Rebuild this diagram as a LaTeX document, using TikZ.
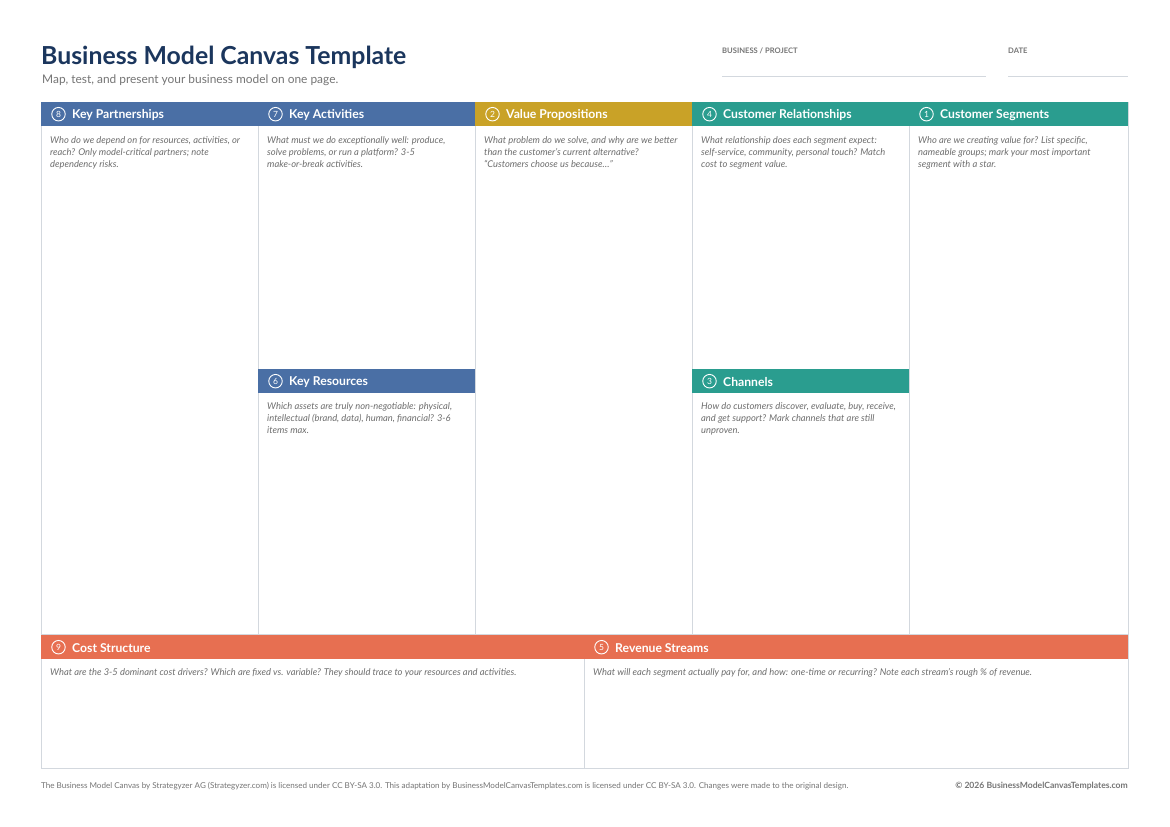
\documentclass[tikz,border=0pt]{standalone}
\usepackage{fontspec}
\setmainfont{Lato}
\usetikzlibrary{positioning}
\definecolor{navy}{HTML}{1B365D}
\definecolor{kblue}{HTML}{4A6FA5}
\definecolor{kgold}{HTML}{C9A227}
\definecolor{kteal}{HTML}{2A9D8F}
\definecolor{kcoral}{HTML}{E76F51}
\definecolor{gridc}{HTML}{D3D8DE}
\definecolor{desctxt}{HTML}{6E6E6E}
\definecolor{subtxt}{HTML}{757575}
\tikzset{
  hdrbar/.style={rectangle, draw=none, minimum height=24pt, inner sep=0pt, anchor=north west},
  numcirc/.style={circle, draw=white, line width=0.9pt, minimum size=13.5pt, inner sep=0pt, text=white, font=\fontsize{8.5}{8.5}\selectfont},
  hdrtitle/.style={inner sep=0pt, text=white, font=\fontsize{12.2}{12.2}\selectfont\bfseries, anchor=west},
  desc/.style={inner sep=0pt, anchor=north west, align=left, text=desctxt, font=\fontsize{9.35}{12}\selectfont\itshape},
  gridline/.style={draw=gridc, line width=0.8pt},
  fieldlbl/.style={inner sep=0pt, anchor=west, text=subtxt, font=\fontsize{7.6}{8}\selectfont\bfseries},
  fieldline/.style={draw=gridc, line width=0.6pt},
  foot/.style={inner sep=0pt, text=subtxt, font=\fontsize{8.07}{9}\selectfont}
}
\newcommand{\bmhead}[7]{%
  \node[hdrbar, fill=#5, minimum width=#4pt] (#1) at (#2,#3) {};
  \node[numcirc] (#1n) at ([xshift=17.5pt]#1.west) {#6};
  \node[hdrtitle] (#1t) at ([xshift=31pt,yshift=-1pt]#1.west) {#7};
}
\begin{document}
\begin{tikzpicture}[x=1pt,y=-1pt]
\useasboundingbox[fill=white] (0,0) rectangle (1170,827);

% title block
\node[inner sep=0pt, anchor=base west, text=navy, font=\fontsize{24.8}{26}\selectfont\bfseries] (title) at (41,64.5) {Business Model Canvas Template};
\node[inner sep=0pt, anchor=base west, text=subtxt, font=\fontsize{11.9}{13}\selectfont] (subtitle) at (42,83) {Map, test, and present your business model on one page.};

% fields
\node[fieldlbl] (bizlbl) at (722,50.5) {BUSINESS / PROJECT};
\coordinate (bizl) at (722,76);
\coordinate (bizr) at (986,76);
\draw[fieldline] (bizl) -- (bizr);
\node[fieldlbl] (datelbl) at (1008,50.5) {DATE};
\coordinate (datel) at (1008,76);
\coordinate (dater) at (1128,76);
\draw[fieldline] (datel) -- (dater);

% grid
\coordinate (tl) at (41,102);
\coordinate (br) at (1128,768);
\draw[gridline] (tl) rectangle (br);
\foreach \x in {258,475,692,909} {
  \draw[gridline] (\x,102) -- (\x,634);
}
\draw[gridline] (41,634) -- (1128,634);
\draw[gridline] (584,634) -- (584,768);

% headers
\bmhead{kp}{41}{102}{217}{kblue}{8}{Key Partnerships}
\bmhead{ka}{258}{102}{217}{kblue}{7}{Key Activities}
\bmhead{vp}{475}{102}{217}{kgold}{2}{Value Propositions}
\bmhead{cr}{692}{102}{217}{kteal}{4}{Customer Relationships}
\bmhead{cs}{909}{102}{219}{kteal}{1}{Customer Segments}
\bmhead{kr}{258}{369}{217}{kblue}{6}{Key Resources}
\bmhead{ch}{692}{369}{217}{kteal}{3}{Channels}
\bmhead{cst}{41}{635}{543}{kcoral}{9}{Cost Structure}
\bmhead{rs}{584}{635}{544}{kcoral}{5}{Revenue Streams}

% descriptions
\node[desc] (kpd) at (50,136.5) {Who do we depend on for resources, activities, or\\reach? Only model-critical partners; note\\dependency risks.};
\node[desc] (kad) at (267,136.5) {What must we do exceptionally well: produce,\\solve problems, or run a platform? 3-5\\make-or-break activities.};
\node[desc] (vpd) at (484,136.5) {What problem do we solve, and why are we better\\than the customer's current alternative?\\``Customers choose us because\dots''};
\node[desc] (crd) at (701,136.5) {What relationship does each segment expect:\\self-service, community, personal touch? Match\\cost to segment value.};
\node[desc] (csd) at (918,136.5) {Who are we creating value for? List specific,\\nameable groups; mark your most important\\segment with a star.};
\node[desc] (krd) at (267,402.5) {Which assets are truly non-negotiable: physical,\\intellectual (brand, data), human, financial? 3-6\\items max.};
\node[desc] (chd) at (701,402.5) {How do customers discover, evaluate, buy, receive,\\and get support? Mark channels that are still\\unproven.};
\node[desc] (cstd) at (50,668.5) {What are the 3-5 dominant cost drivers? Which are fixed vs. variable? They should trace to your resources and activities.};
\node[desc] (rsd) at (593,668.5) {What will each segment actually pay for, and how: one-time or recurring? Note each stream's rough \% of revenue.};

% footer
\node[foot, anchor=base west] (footl) at (41,788) {The Business Model Canvas by Strategyzer AG (Strategyzer.com) is licensed under CC BY-SA 3.0. This adaptation by BusinessModelCanvasTemplates.com is licensed under CC BY-SA 3.0. Changes were made to the original design.};
\node[foot, anchor=base east, font=\fontsize{8.6}{9}\selectfont\bfseries] (footr) at (1128,788) {© 2026 BusinessModelCanvasTemplates.com};
\end{tikzpicture}
\end{document}
